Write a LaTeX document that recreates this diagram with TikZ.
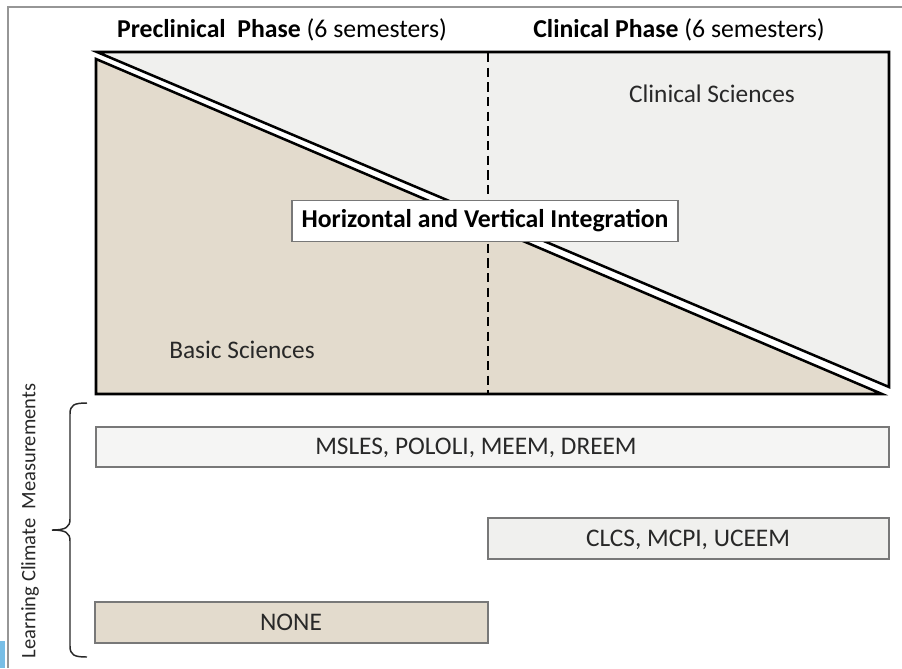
\documentclass[tikz,border=0pt]{standalone}
\usepackage{fontspec}
\setmainfont{Carlito}
\definecolor{beige}{RGB}{227,219,205}
\definecolor{clin}{RGB}{240,240,238}
\definecolor{boxgray}{RGB}{245,245,244}
\definecolor{framegray}{RGB}{150,150,150}
\definecolor{edgegray}{RGB}{120,120,120}
\definecolor{txt}{RGB}{40,40,40}
\definecolor{tabblue}{RGB}{120,190,230}
\begin{document}
\begin{tikzpicture}[x=0.75pt,y=-0.75pt,
  heading/.style={font=\fontsize{19.3}{22}\selectfont, text=black, inner sep=0pt, anchor=base},
  label/.style={font=\fontsize{19}{22}\selectfont, text=txt, inner sep=0pt, anchor=base},
  tri/.style={draw=black, line width=1.9pt, line join=miter},
  mbox/.style={draw=edgegray, line width=1.1pt}]
\useasboundingbox (0,0) rectangle (902,668);
\fill[white] (0,0) rectangle (902,668);
% outer frame
\draw[framegray, line width=1.6pt] (8,668) -- (8,7) -- (902,7);
\fill[tabblue] (0,641) rectangle (5,668);
% headings
\node[heading] (pre) at (282,37) {\textbf{Preclinical\ \ Phase} (6 semesters)};
\node[heading] (cli) at (679,37) {\textbf{Clinical Phase} (6 semesters)};
% triangles
\filldraw[tri, fill=clin] (97,52) -- (889,52) -- (889,387) -- cycle;
\filldraw[tri, fill=beige] (96,59) -- (882,394) -- (96,394) -- cycle;
% dashed divider
\coordinate (dtop) at (488,53);
\coordinate (dbot) at (488,393);
\draw[black, line width=1.4pt, dash pattern=on 7pt off 4pt] (dtop) -- (dbot);
% labels
\node[label] (cs) at (712,102) {Clinical Sciences};
\node[label] (bs) at (242,358) {Basic Sciences};
\node[draw=edgegray, fill=white, line width=0.9pt, minimum width=386*0.75pt, minimum height=41*0.75pt,
      inner sep=0pt, font=\bfseries\fontsize{19.3}{22}\selectfont] (hvi) at (485,221) {Horizontal and Vertical Integration};
% bottom boxes
\filldraw[mbox, fill=boxgray] (96,427) rectangle (889,467);
\node[label] (m1) at (476,454) {MSLES, POLOLI, MEEM, DREEM};
\filldraw[mbox, fill=clin] (488,518) rectangle (889,559);
\node[label] (m2) at (688,546) {CLCS, MCPI, UCEEM};
\filldraw[mbox, fill=beige] (95,602) rectangle (488,643);
\node[label] (m3) at (291,630) {NONE};
% brace
\draw[txt, line width=1.1pt] (87,403) .. controls (74,403) and (70,405) .. (70,414) -- (70,519)
  .. controls (70,527) and (66,530) .. (52,530) .. controls (66,530) and (70,533) .. (70,541)
  -- (70,646) .. controls (70,655) and (74,657) .. (87,657);
\node[label, anchor=center, rotate=90, font=\fontsize{15.4}{18}\selectfont] (lcm) at (30,521) {Learning Climate\ \ Measurements};
\end{tikzpicture}
\end{document}
